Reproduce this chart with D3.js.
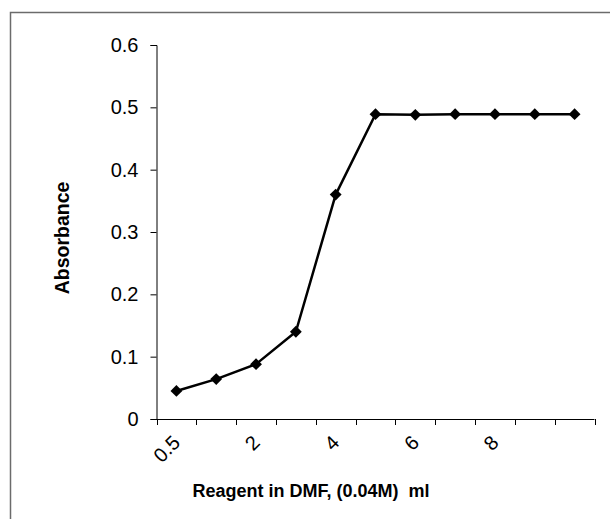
<!DOCTYPE html>
<html>
<head>
<meta charset="utf-8">
<script src="https://cdn.jsdelivr.net/npm/d3@7"></script>
<style>
  html, body { margin: 0; padding: 0; background: #fff; }
  svg { display: block; font-family: Arial, "Liberation Sans", sans-serif; }
</style>
</head>
<body>
<svg id="chart" width="610" height="519"></svg>
<script>
// Data
const categories = ["0.5", "1", "2", "3", "4", "5", "6", "7", "8", "9", "10"];
const absorbance = [0.045, 0.064, 0.088, 0.140, 0.360, 0.489, 0.488, 0.489, 0.489, 0.489, 0.489];
const shownLabels = ["0.5", "2", "4", "6", "8"];
const labelIndexes = [0, 2, 4, 6, 8];
const yTicks = [0, 0.1, 0.2, 0.3, 0.4, 0.5, 0.6];
const xTitle = "Reagent in DMF, (0.04M)  ml";
const yTitle = "Absorbance";

(function () {
const svg = d3.select("#chart");

// outer frame (extends beyond the window on right/bottom)
svg.append("rect")
  .attr("x", 10.5).attr("y", 12.5)
  .attr("width", 700).attr("height", 600)
  .attr("fill", "none").attr("stroke", "#6b6b6b").attr("stroke-width", 1.5);

const pl = 156.5, pr = 594.5, pt = 45, pb = 419;

const x = d3.scaleBand().domain(categories).range([pl, pr]).padding(0);
const y = d3.scaleLinear().domain([0, 0.6]).range([pb, pt]);

// y axis
const yAxis = svg.append("g").attr("transform", `translate(${pl},0)`)
  .call(d3.axisLeft(y).tickValues(yTicks).tickSize(6).tickPadding(12)
        .tickFormat(d => d === 0 ? "0" : d3.format(".1f")(d)));
yAxis.select(".domain").attr("stroke", "#000");
yAxis.selectAll(".tick line").attr("stroke", "#000");
yAxis.selectAll("text").attr("font-size", 20).attr("fill", "#000")
  .attr("font-family", "Arial, 'Liberation Sans', sans-serif");

// x axis: ticks at band edges
const xg = svg.append("g");
xg.append("line")
  .attr("x1", pl).attr("x2", pr)
  .attr("y1", pb + 0.5).attr("y2", pb + 0.5)
  .attr("stroke", "#000");
const edges = categories.map(c => x(c)).concat([x(categories[categories.length - 1]) + x.bandwidth()]);
xg.selectAll("line.tk").data(edges).enter().append("line")
  .attr("class", "tk")
  .attr("x1", d => Math.round(d) + 0.5).attr("x2", d => Math.round(d) + 0.5)
  .attr("y1", pb).attr("y2", pb + 6)
  .attr("stroke", "#000");

// x tick labels rotated
xg.selectAll("text.lbl").data(labelIndexes).enter().append("text")
  .attr("class", "lbl")
  .attr("text-anchor", "end")
  .attr("font-size", 20)
  .attr("fill", "#000")
  .attr("transform", (d) => {
    const cx = x(categories[d]) + x.bandwidth() / 2 + 5;
    return `translate(${cx},${pb + 25}) rotate(-45)`;
  })
  .text((d, i) => shownLabels[i]);

// line
const line = d3.line()
  .x((d, i) => x(categories[i]) + x.bandwidth() / 2)
  .y(d => y(d));
svg.append("path").datum(absorbance)
  .attr("d", line)
  .attr("fill", "none").attr("stroke", "#000").attr("stroke-width", 2.5)
  .attr("stroke-linejoin", "round");

// markers
const sym = d3.symbol().type(d3.symbolSquare).size(70);
svg.selectAll("path.mk").data(absorbance).enter().append("path")
  .attr("class", "mk")
  .attr("d", sym)
  .attr("fill", "#000")
  .attr("transform", (d, i) => `translate(${x(categories[i]) + x.bandwidth() / 2},${y(d)}) rotate(45)`);

// titles
svg.append("text")
  .attr("x", 311).attr("y", 497)
  .attr("text-anchor", "middle")
  .attr("font-size", 18).attr("font-weight", "bold")
  .attr("fill", "#000")
  .style("white-space", "pre")
  .text(xTitle);

svg.append("text")
  .attr("transform", "translate(69,238) rotate(-90)")
  .attr("text-anchor", "middle")
  .attr("font-size", 19.5).attr("font-weight", "bold")
  .attr("fill", "#000")
  .text(yTitle);
})();
</script>
</body>
</html>
